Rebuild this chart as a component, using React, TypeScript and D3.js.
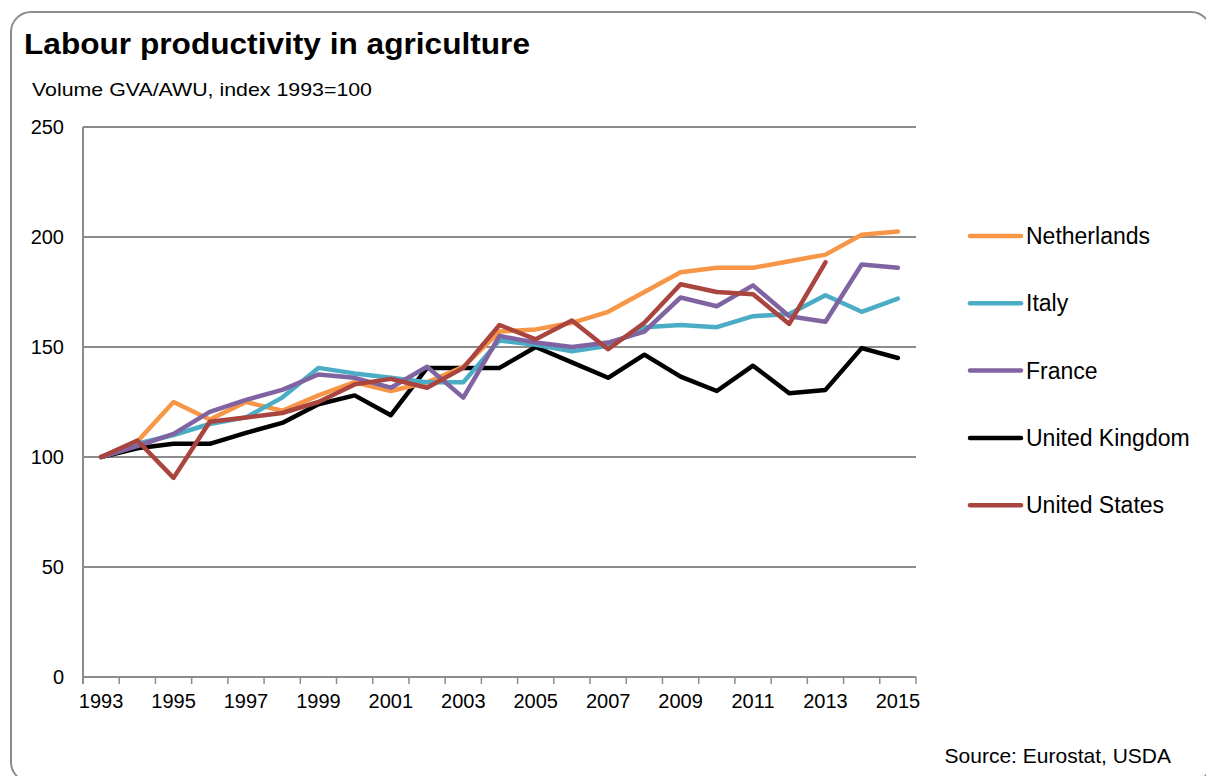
import * as d3 from 'd3'

const years = d3.range(1993, 2016).map(String)

const netherlands = [100, 107, 125, 117, 125, 121, 128, 134, 130, 134, 141, 157, 158, 161, 166, 175, 184, 186, 186, 189, 192, 201, 202.5]
const italy = [100, 106, 110, 115, 118, 127, 140.5, 138, 136, 134, 134, 153, 151, 148, 150.5, 159, 160, 159, 164, 165, 173.5, 166, 172]
const france = [100, 105, 110.5, 120.5, 126, 130.5, 137.5, 136, 131.5, 141, 127, 155, 152, 150, 152, 157, 172.5, 168.5, 178, 164, 161.5, 187.5, 186]
const unitedKingdom = [100, 104, 106, 106, 111, 115.5, 124, 128, 119, 140.5, 140.5, 140.5, 150, 143, 136, 146.5, 136.5, 130, 141.5, 129, 130.5, 149.5, 145]
const unitedStates = [100, 107.5, 90.5, 116, 118, 120, 125, 133, 135.5, 131.5, 140.5, 160, 153.5, 162, 149, 161, 178.5, 175, 174, 160.5, 188.5, null, null]

const yTicks = [0, 50, 100, 150, 200, 250]

const series = [
  { name: 'Netherlands', color: '#F79646', values: netherlands },
  { name: 'Italy', color: '#4BACC6', values: italy },
  { name: 'France', color: '#8064A2', values: france },
  { name: 'United Kingdom', color: '#000000', values: unitedKingdom },
  { name: 'United States', color: '#A9443E', values: unitedStates }
]

// drawing order: UK at bottom, then others
const drawOrder = ['United Kingdom', 'Netherlands', 'Italy', 'France', 'United States']

export default function App() {
  const width = 1206
  const height = 776
  const font = 'Liberation Sans, Arial, sans-serif'

  const x = d3.scaleBand<string>().domain(years).range([83, 916]).padding(0)
  const y = d3.scaleLinear().domain([0, 250]).range([677, 127])
  const cx = (yr: string) => (x(yr) ?? 0) + x.bandwidth() / 2

  const line = d3.line<number | null>()
    .defined(d => d !== null)
    .x((_, i) => cx(years[i]))
    .y(d => y(d as number))

  const boundaries = years.map(yr => x(yr) ?? 0).concat([916])

  return (
    <div style={{ position: 'fixed', left: 0, top: 0 }}>
      <svg width={width} height={height} style={{ display: 'block', background: '#fff' }}>
        {/* outer frame */}
        <rect x={11} y={12} width={1200} height={770} rx={20} ry={20}
          fill="none" stroke="#8c8c8c" strokeWidth={2} />

        <text x={24} y={54} fontFamily={font} fontWeight="bold" fontSize={30} fill="#000"
          textLength={506} lengthAdjust="spacingAndGlyphs">
          Labour productivity in agriculture
        </text>
        <text x={32} y={96} fontFamily={font} fontSize={19} fill="#000"
          textLength={340} lengthAdjust="spacingAndGlyphs">
          Volume GVA/AWU, index 1993=100
        </text>

        {/* gridlines */}
        {yTicks.map(t => (
          <line key={t} x1={83} x2={916} y1={y(t)} y2={y(t)} stroke="#8c8c8c" strokeWidth={2} />
        ))}
        <line x1={83} x2={83} y1={127} y2={684} stroke="#8c8c8c" strokeWidth={2} />

        {/* x ticks */}
        {boundaries.map((b, i) => (
          <line key={i} x1={b} x2={b} y1={677} y2={684} stroke="#8c8c8c" strokeWidth={1.5} />
        ))}

        {/* y labels */}
        {yTicks.map(t => (
          <text key={t} x={64} y={y(t) + 7} textAnchor="end" fontFamily={font} fontSize={20} fill="#000">
            {t}
          </text>
        ))}

        {/* x labels */}
        {years.filter((_, i) => i % 2 === 0).map(yr => (
          <text key={yr} x={cx(yr)} y={708} textAnchor="middle" fontFamily={font} fontSize={20} fill="#000">
            {yr}
          </text>
        ))}

        {/* series lines */}
        {drawOrder.map(n => {
          const s = series.find(d => d.name === n)!
          return (
            <path key={n} d={line(s.values) ?? ''} fill="none" stroke={s.color}
              strokeWidth={4.5} strokeLinejoin="round" strokeLinecap="round" />
          )
        })}

        {/* legend */}
        {series.map((s, i) => {
          const ly = 236 + i * 67.3
          return (
            <g key={s.name}>
              <line x1={970} x2={1021} y1={ly} y2={ly} stroke={s.color} strokeWidth={4.5} strokeLinecap="round" />
              <text x={1026} y={ly + 8} fontFamily={font} fontSize={23} fill="#000">{s.name}</text>
            </g>
          )
        })}

        <text x={1171} y={763} textAnchor="end" fontFamily={font} fontSize={21} fill="#000">
          Source: Eurostat, USDA
        </text>
      </svg>
    </div>
  )
}
